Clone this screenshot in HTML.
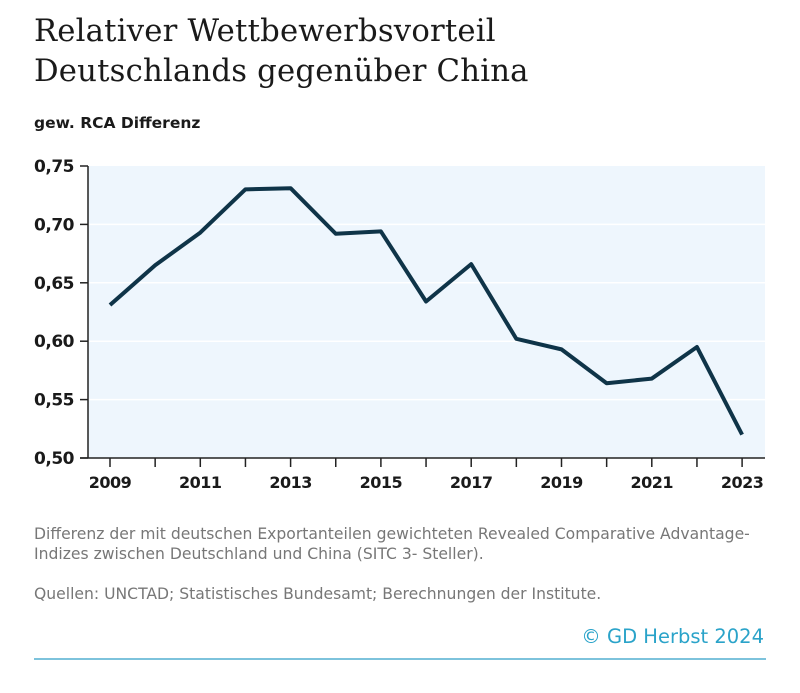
<!DOCTYPE html>
<html><head><meta charset="utf-8"><style>
body{margin:0;width:800px;height:693px;background:#fff;font-family:"Liberation Sans",sans-serif;position:relative;overflow:hidden}
.t{position:absolute;left:34px;top:12px;font-family:"DejaVu Serif",serif;font-size:30.7px;line-height:40px;color:#1a1a1a;letter-spacing:0.2px}
.st{position:absolute;left:34px;top:114px;font-family:"DejaVu Sans",sans-serif;font-size:15.5px;font-weight:bold;color:#1a1a1a}
.note{position:absolute;left:34px;font-family:"DejaVu Sans",sans-serif;font-size:15.6px;color:#777;line-height:20px}
.src{position:absolute;right:36px;top:625px;font-family:"DejaVu Sans",sans-serif;font-size:19.5px;color:#2aa3c9}
.rule{position:absolute;left:34px;top:658px;width:732px;height:2px;background:#7dc3dc}
</style></head><body>
<div class="t">Relativer Wettbewerbsvorteil<br>Deutschlands gegenüber China</div>
<div class="st">gew. RCA Differenz</div>
<svg id="c" width="800" height="500" style="position:absolute;left:0;top:0"></svg>
<div class="note" style="top:524px;white-space:nowrap">Differenz der mit deutschen Exportanteilen gewichteten Revealed Comparative Advantage-<br>Indizes zwischen Deutschland und China (SITC 3- Steller).</div>
<div class="note" style="top:584px">Quellen: UNCTAD; Statistisches Bundesamt; Berechnungen der Institute.</div>
<div class="src">© GD Herbst 2024</div>
<div class="rule"></div>
<script>
const years=[2009,2010,2011,2012,2013,2014,2015,2016,2017,2018,2019,2020,2021,2022,2023];
const values=[0.631,0.665,0.693,0.730,0.731,0.692,0.694,0.634,0.666,0.602,0.593,0.564,0.568,0.595,0.520];
const yTicks=[0.50,0.55,0.60,0.65,0.70,0.75];
const xLabels=[2009,2011,2013,2015,2017,2019,2021,2023];
const NS="http://www.w3.org/2000/svg";
const svg=document.getElementById('c');
const L=88,R=765,T=166,B=458;
const x=v=>110+(v-2009)*45.15;
const y=v=>B-(v-0.5)/0.25*(B-T);
function el(tag,a,p){const e=document.createElementNS(NS,tag);for(const k in a)e.setAttribute(k,a[k]);(p||svg).appendChild(e);return e;}
const bg=el('rect',{x:L,y:T,width:R-L,height:B-T,fill:'#eef6fd'});


yTicks.forEach(v=>{
 if(v>0.5&&v<0.75){const g=el('line',{x1:L,x2:R,y1:y(v),y2:y(v),stroke:'#fff','stroke-width':1.5});
 
 }
 el('line',{x1:L-8,x2:L,y1:y(v),y2:y(v),stroke:'#222','stroke-width':1.5});
 const t=el('text',{x:L-14,y:y(v)+6,'text-anchor':'end','font-size':17,'font-weight':'bold',fill:'#1a1a1a','font-family':'DejaVu Sans, sans-serif','letter-spacing':'-0.5'});
 t.textContent=v.toFixed(2).replace('.',',');
 
 
});
years.forEach(yr=>{el('line',{x1:x(yr),x2:x(yr),y1:B,y2:B+9,stroke:'#222','stroke-width':1.5});});
xLabels.forEach(yr=>{
 const t=el('text',{x:x(yr),y:B+30,'text-anchor':'middle','font-size':16,'font-weight':'bold',fill:'#1a1a1a','font-family':'DejaVu Sans, sans-serif','letter-spacing':'-0.5'});
 t.textContent=yr;
 
 
});
el('line',{x1:L,x2:L,y1:T,y2:B,stroke:'#222','stroke-width':1.5});
el('line',{x1:L-8,x2:R,y1:B,y2:B,stroke:'#222','stroke-width':1.5});
const p=el('polyline',{points:years.map((yr,i)=>x(yr)+','+y(values[i])).join(' '),fill:'none',stroke:'#0f3448','stroke-width':4,'stroke-linejoin':'round'});


</script>
</body></html>
